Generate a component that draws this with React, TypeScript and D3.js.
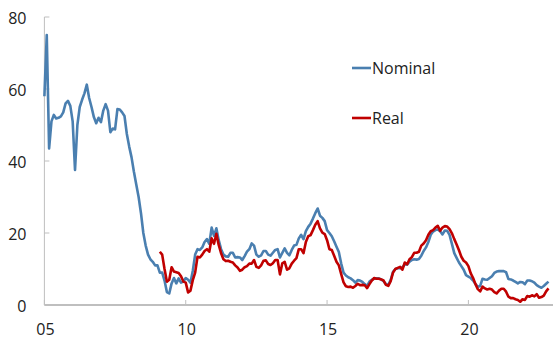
import React from "react";
import * as d3 from "d3";

const startYear = 2005;
const nominal: number[] = [
  58, 75, 43.5, 51, 52.8, 51.8, 52, 52.4, 53.5, 56, 56.7, 55.3,
  51, 37.5, 50, 55, 57, 58.8, 61.2, 57.5, 55, 52.2, 50.5, 52,
  50.8, 54, 55.8, 54, 48, 49, 48.8, 54.4, 54.3, 53.5, 52.5, 47.5,
  44, 41, 37, 33.5, 30, 25.5, 20, 16.5, 14, 12.7, 12, 11,
  11, 9, 9, 6.8, 3.6, 3.2, 6, 7.5, 6, 7.4, 6.2, 6.5,
  7.5, 7, 6.2, 9.5, 14, 15.5, 15.3, 16, 17.5, 18.3, 17, 21.5,
  19.2, 21.3, 18, 15.5, 14, 13.5, 13.4, 14.5, 14.5, 13.2, 13.3, 13.2,
  12.5, 13.6, 14.8, 15.5, 17.1, 16.5, 14, 13.4, 13.8, 15, 15, 14,
  13.7, 14.5, 15.3, 15.5, 13.2, 14.5, 15.7, 14.5, 13.8, 15.3, 16.5, 16.7,
  18.5, 19.5, 18.3, 20.5, 21.7, 22.6, 24, 25.5, 26.8, 24.8, 24.2, 23.3,
  20.8, 20, 19.1, 17.7, 16.2, 14.7, 11.5, 9, 8.2, 7.7, 7.4, 6.9,
  6.2, 6.9, 6.8, 6.4, 5.8, 5.3, 6.5, 7, 7.3, 7.4, 7.4, 7.1,
  6.6, 5.8, 5.6, 7, 9.2, 10, 10.2, 10.2, 10.5, 11.3, 11.2, 12,
  12.5, 12.7, 12.6, 12.8, 13.7, 15, 16, 17.5, 19.5, 20.4, 20.8, 21,
  20.5, 19.6, 20.7, 20.6, 19.5, 17, 14.4, 13.1, 11.8, 10.8, 9.8, 8.3,
  7.9, 7.5, 6.8, 5.8, 5.1, 5.3, 7.3, 7.1, 7, 7.5, 8, 8.9,
  9.3, 9.4, 9.4, 9.4, 9.1, 7.2, 7.1, 6.8, 6.4, 6, 6.4, 6.3,
  5.8, 6.8, 6.8, 6.6, 6.2, 5.5, 5.1, 4.8, 5.3, 5.9, 6.5,
];

// Real series starts at month index 49 (Feb 2009)
const realStartIndex = 49;
const real: number[] = [
  14.8, 14, 10, 6.5, 7, 10.5, 9.3, 9.1, 8.9, 8, 6.5,
  6.2, 3.5, 4, 6.9, 9, 13.4, 13.2, 14, 15, 15.5, 14.8, 18.5,
  17, 19.8, 16.7, 14.4, 12.7, 12.2, 12.3, 12, 11.8, 11, 10.4, 9.5,
  9.8, 10.5, 10.8, 11.5, 11.5, 12.5, 10.6, 10.3, 11, 12.3, 12.4, 11.4,
  11.1, 11.6, 12.5, 12.5, 8.5, 11.6, 12, 9.8, 10.2, 11.5, 12.3, 13,
  15.5, 15.5, 14.4, 17.5, 19.1, 19.4, 20.8, 22.3, 23.3, 21.3, 20.1, 19.7,
  18, 15.5, 15.3, 13.7, 12, 11, 8.6, 6.3, 5.2, 5, 5.1, 4.8,
  5.3, 5.9, 5.5, 5.6, 5.5, 4.7, 5.8, 6.8, 7.5, 7.3, 7.3, 7.1,
  6.8, 5.6, 5.3, 6.6, 9, 10, 10.3, 10.6, 9.8, 11.8, 11.3, 12.7,
  13.3, 14.5, 14.5, 14.8, 16.5, 17.1, 18, 19.5, 20.5, 20.8, 21.5, 22,
  20.6, 21.5, 21.9, 21.8, 21.1, 19.9, 18.3, 16.8, 15.2, 13.4, 12.3, 11.8,
  10.8, 8.8, 7.5, 5.8, 4.4, 3.8, 5.1, 4.6, 4.3, 4.5, 4.3, 3.6,
  3.2, 4, 4.5, 4.5, 3.7, 2.3, 1.9, 1.9, 1.6, 1.4, 0.9, 1.6,
  1.4, 2.5, 2.3, 2.7, 2.4, 3, 2, 2.2, 2.6, 3.8, 4.6,
];

const xTicks = [2005, 2010, 2015, 2020];
const yTicks = [0, 20, 40, 60, 80];
const seriesNames = ["Nominal", "Real"];
const seriesColors = ["#4a7fb0", "#c00000"];

const W = 553;
const H = 339;

export default function App() {
  const x = d3.scaleLinear().domain([2005, 2023]).range([44.4, 553.2]);
  const y = d3.scaleLinear().domain([0, 80]).range([305, 17]);

  const nomPts: [number, number][] = nominal.map((v, i) => [startYear + i / 12, v]);
  const realPts: [number, number][] = real.map((v, i) => [startYear + (i + realStartIndex) / 12, v]);

  const line = d3
    .line<[number, number]>()
    .x((d) => x(d[0]))
    .y((d) => y(d[1]));

  const axisColor = "#bfbfbf";
  const font = "'Open Sans', sans-serif";

  return (
    <svg
      width={W}
      height={H}
      style={{ position: "absolute", left: 0, top: 0, background: "#fff" }}
      fontFamily={font}
    >
      {/* y axis */}
      <line x1={x(2005)} x2={x(2005)} y1={y(80)} y2={y(0)} stroke={axisColor} strokeWidth={1} />
      {yTicks.map((t) => (
        <g key={t}>
          <line x1={x(2005)} x2={x(2005) + 5} y1={y(t)} y2={y(t)} stroke={axisColor} />
          <text x={26.5} y={y(t) + 1} dy="0.35em" textAnchor="end" fontSize={16} fill="#222">
            {t}
          </text>
        </g>
      ))}
      {/* x axis */}
      <line x1={x(2005)} x2={W} y1={y(0)} y2={y(0)} stroke={axisColor} strokeWidth={2} />
      {xTicks.map((t) => (
        <g key={t}>
          <line x1={x(t)} x2={x(t)} y1={y(0)} y2={y(0) - 5} stroke={axisColor} />
          <text x={x(t) + 1} y={334.5} textAnchor="middle" fontSize={16} fill="#222">
            {String(t % 100).padStart(2, "0")}
          </text>
        </g>
      ))}
      {/* series */}
      <path d={line(nomPts) || ""} fill="none" stroke={seriesColors[0]} strokeWidth={2.6} strokeLinejoin="round" />
      <path d={line(realPts) || ""} fill="none" stroke={seriesColors[1]} strokeWidth={2.6} strokeLinejoin="round" />
      {/* legend */}
      {seriesNames.map((n, i) => (
        <g key={n} transform={`translate(352, ${68 + i * 50})`}>
          <line x1={0} x2={19} y1={0} y2={0} stroke={seriesColors[i]} strokeWidth={2.6} />
          <text x={20} y={0} dy="0.35em" fontSize={16} fill="#222">
            {n}
          </text>
        </g>
      ))}
    </svg>
  );
}
